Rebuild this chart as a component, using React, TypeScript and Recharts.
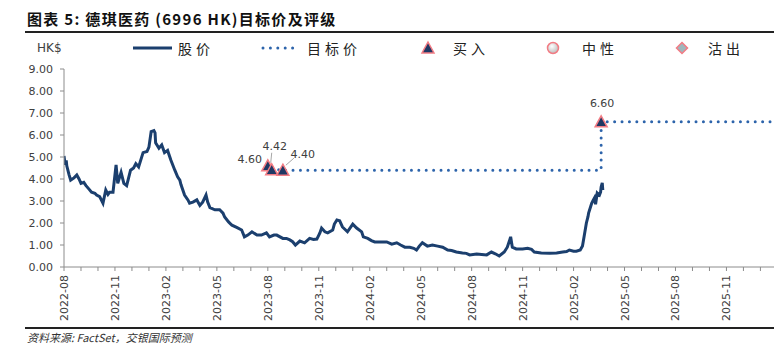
import { ComposedChart, Line, Scatter, XAxis, YAxis } from 'recharts';

// 股价 (HK$)
const priceDates = [
  '2022-08-01', '2022-08-03', '2022-08-05', '2022-08-06', '2022-08-10', '2022-08-13', '2022-08-19', '2022-08-24',
  '2022-08-28', '2022-09-01', '2022-09-06', '2022-09-10', '2022-09-15', '2022-09-20', '2022-09-26', '2022-09-29',
  '2022-10-04', '2022-10-10', '2022-10-15', '2022-10-19', '2022-10-22', '2022-10-28', '2022-11-03', '2022-11-06',
  '2022-11-12', '2022-11-17', '2022-11-22', '2022-11-29', '2022-12-04', '2022-12-08', '2022-12-13', '2022-12-21',
  '2022-12-28', '2023-01-01', '2023-01-05', '2023-01-10', '2023-01-12', '2023-01-13', '2023-01-19', '2023-01-24',
  '2023-01-29', '2023-02-04', '2023-02-10', '2023-02-17', '2023-02-22', '2023-02-26', '2023-02-28', '2023-03-04',
  '2023-03-10', '2023-03-13', '2023-03-19', '2023-03-26', '2023-04-01', '2023-04-06', '2023-04-12', '2023-04-15',
  '2023-04-19', '2023-04-28', '2023-05-06', '2023-05-12', '2023-05-15', '2023-05-22', '2023-05-28', '2023-06-06',
  '2023-06-15', '2023-06-20', '2023-06-26', '2023-07-03', '2023-07-12', '2023-07-20', '2023-07-29', '2023-08-04',
  '2023-08-12', '2023-08-17', '2023-08-28', '2023-09-04', '2023-09-10', '2023-09-15', '2023-09-20', '2023-09-28',
  '2023-10-06', '2023-10-15', '2023-10-22', '2023-10-28', '2023-11-03', '2023-11-06', '2023-11-12', '2023-11-17',
  '2023-11-26', '2023-11-29', '2023-12-03', '2023-12-08', '2023-12-13', '2023-12-22', '2024-01-01', '2024-01-08',
  '2024-01-17', '2024-01-20', '2024-01-28', '2024-02-04', '2024-02-10', '2024-02-22', '2024-03-01', '2024-03-10',
  '2024-03-19', '2024-03-26', '2024-04-03', '2024-04-12', '2024-04-19', '2024-04-24', '2024-04-29', '2024-05-04',
  '2024-05-13', '2024-05-22', '2024-06-01', '2024-06-10', '2024-06-19', '2024-06-26', '2024-07-04', '2024-07-15',
  '2024-07-22', '2024-07-28', '2024-08-10', '2024-08-19', '2024-08-28', '2024-09-06', '2024-09-13', '2024-09-20',
  '2024-09-29', '2024-10-04', '2024-10-08', '2024-10-10', '2024-10-13', '2024-10-20', '2024-11-01', '2024-11-10',
  '2024-11-17', '2024-11-22', '2024-12-04', '2024-12-19', '2025-01-01', '2025-01-12', '2025-01-19', '2025-01-24',
  '2025-02-01', '2025-02-06', '2025-02-13', '2025-02-17', '2025-02-20', '2025-02-24', '2025-02-27', '2025-02-28',
  '2025-03-03', '2025-03-06', '2025-03-08', '2025-03-10', '2025-03-13', '2025-03-17', '2025-03-19', '2025-03-20',
  '2025-03-22', '2025-03-23',
];
const priceValues = [
  5.05, 4.65, 4.85, 4.6, 4.2, 3.95, 4.05, 4.18,
  4.0, 3.8, 3.85, 3.7, 3.55, 3.4, 3.35, 3.27,
  3.2, 2.9, 3.5, 3.3, 3.4, 3.4, 4.64, 3.8,
  4.3, 3.8, 3.7, 4.4, 4.5, 4.7, 4.55, 5.2,
  5.25, 5.45, 6.15, 6.2, 6.1, 5.65, 5.4, 5.55,
  5.2, 5.3, 4.85, 4.4, 4.1, 3.95, 3.75, 3.27,
  3.05, 2.9, 2.95, 3.05, 2.8, 2.95, 3.27, 2.95,
  2.7, 2.6, 2.6, 2.45, 2.27, 2.05, 1.9, 1.8,
  1.68, 1.37, 1.45, 1.6, 1.45, 1.45, 1.55, 1.37,
  1.45, 1.45, 1.3, 1.3, 1.23, 1.15, 1.0, 1.18,
  1.1, 1.3, 1.25, 1.27, 1.55, 1.77, 1.6, 1.55,
  1.68, 1.95, 2.14, 2.1, 1.82, 1.6, 1.95, 1.77,
  1.6, 1.37, 1.3, 1.2, 1.14, 1.14, 1.14, 1.04,
  1.1, 1.0, 0.9, 0.9, 0.85, 0.77, 0.95, 1.1,
  0.95, 1.0, 0.95, 0.9, 0.77, 0.75, 0.68, 0.64,
  0.62, 0.55, 0.59, 0.57, 0.55, 0.68, 0.6, 0.5,
  0.68, 0.9, 1.2, 1.37, 0.9, 0.82, 0.82, 0.85,
  0.8, 0.68, 0.64, 0.62, 0.64, 0.68, 0.7, 0.77,
  0.72, 0.72, 0.77, 0.95, 1.4, 2.0, 2.3, 2.45,
  2.9, 3.05, 3.14, 2.85, 3.36, 3.27, 3.4, 3.64,
  3.82, 3.5,
];

// 目标价
const targetDates = ['2023-08-01', '2023-08-08', '2023-08-28', '2025-03-20', '2026-01-25'];
const targetValues = [4.6, 4.42, 4.4, 6.6, 6.6];

// 评级 (买入)
const ratingDates = ['2023-08-01', '2023-08-08', '2023-08-28', '2025-03-20'];
const ratingValues = [4.6, 4.42, 4.4, 6.6];

const yTicks = [0, 1, 2, 3, 4, 5, 6, 7, 8, 9];
const xTickLabels = [
  '2022-08', '2022-11', '2023-02', '2023-05', '2023-08', '2023-11', '2024-02',
  '2024-05', '2024-08', '2024-11', '2025-02', '2025-05', '2025-08', '2025-11',
];

// months since 2022-08-01
const toMonths = (s: string) => {
  const [y, mo, d] = s.split('-').map(Number);
  return (y - 2022) * 12 + (mo - 8) + ((d || 1) - 1) / 30.5;
};

const priceData = priceDates.map((d, i) => ({ m: toMonths(d), v: priceValues[i] }));
const targetData = targetDates.map((d, i) => ({ m: toMonths(d), v: targetValues[i] }));
const ratingData = ratingDates.map((d, i) => ({ m: toMonths(d), v: ratingValues[i], i }));

const monthTicks = Array.from({ length: 42 }, (_, i) => i);
const labelled = new Map(xTickLabels.map((l) => [Math.round(toMonths(l + '-01')), l]));

const AXIS = '#8c8c8c';
const TEXT = '#404040';
const FONT = '"DejaVu Sans", sans-serif';
const CJK = '"Noto Sans CJK SC", sans-serif';
const NAVY = '#1b3f6e';
const BLUE = '#2d64ab';
const PINK = '#f27c84';

// label placement for each rating point, relative to the marker
const labelOffsets = [[-18, -6], [3, -23], [20, -16], [1, -18]];
const leaders: Record<number, number[]> = { 1: [0, -17, -1, -7], 2: [11, -12, 3, -5] };

const MonthTick = (props: any) => {
  const { x, y, payload } = props;
  const label = labelled.get(payload.value);
  return (
    <g>
      <line x1={x} x2={x} y1={y} y2={y + 4} stroke={AXIS} />
      {label && (
        <text
          transform={`translate(${x + 4},${y + 8}) rotate(-90)`}
          textAnchor="end"
          fontSize={11}
          fontFamily={FONT}
          fill={TEXT}
        >
          {label}
        </text>
      )}
    </g>
  );
};

const Triangle = ({ cx, cy, stroke = PINK }: any) => (
  <path
    d={`M${cx},${cy - 6} L${cx + 6},${cy + 5} L${cx - 6},${cy + 5} Z`}
    fill="#1f3864"
    stroke={stroke}
    strokeWidth={1.5}
  />
);

const RatingMark = (props: any) => {
  const { cx, cy, payload } = props;
  const [dx, dy] = labelOffsets[payload.i];
  const ld = leaders[payload.i];
  return (
    <g>
      {ld && (
        <line x1={cx + ld[0]} y1={cy + ld[1]} x2={cx + ld[2]} y2={cy + ld[3]} stroke="#a6a6a6" strokeWidth={1} />
      )}
      <Triangle cx={cx} cy={cy} />
      <text
        x={cx + dx}
        y={cy + dy}
        textAnchor="middle"
        dominantBaseline="central"
        fontSize={11}
        fontFamily={FONT}
        fill={TEXT}
      >
        {payload.v.toFixed(2)}
      </text>
    </g>
  );
};

const legendText = {
  position: 'absolute' as const,
  top: 38,
  fontSize: 14,
  fontFamily: CJK,
  letterSpacing: 4,
  color: '#222',
  lineHeight: '20px',
};

export default function App() {
  return (
    <div style={{ position: 'absolute', left: 0, top: 0, width: 774, height: 354, background: '#fff' }}>
      <div
        style={{
          position: 'absolute',
          left: 27,
          top: 8,
          fontSize: 15,
          fontWeight: 'bold',
          fontFamily: CJK,
          letterSpacing: 1.3,
          lineHeight: '22px',
          color: '#111',
          whiteSpace: 'nowrap',
        }}
      >
        图表 5: 德琪医药 (6996 HK)目标价及评级
      </div>
      <div style={{ position: 'absolute', left: 25, right: 0, top: 31, height: 2, background: '#222' }} />

      {/* legend */}
      <div style={{ position: 'absolute', left: 37, top: 40, fontSize: 12, fontFamily: FONT, color: TEXT, lineHeight: '16px' }}>
        HK$
      </div>
      <svg style={{ position: 'absolute', left: 0, top: 38 }} width={774} height={20}>
        <line x1={133} x2={172} y1={10} y2={10} stroke={NAVY} strokeWidth={3} />
        <line x1={263} x2={300} y1={10} y2={10} stroke={BLUE} strokeWidth={3} strokeDasharray="0 7.4" strokeLinecap="round" />
        <Triangle cx={428} cy={10} />
        <defs>
          <radialGradient id="neutral" cx="40%" cy="35%" r="70%">
            <stop offset="0%" stopColor="#ffffff" />
            <stop offset="100%" stopColor="#b8b8b8" />
          </radialGradient>
        </defs>
        <circle cx={553} cy={10} r={5.5} fill="url(#neutral)" stroke={PINK} strokeWidth={1.5} />
        <path d="M682,4.5 L687.5,10 L682,15.5 L676.5,10 Z" fill="#9fb7bc" stroke={PINK} strokeWidth={1.5} />
      </svg>
      <div style={{ ...legendText, left: 178 }}>股价</div>
      <div style={{ ...legendText, left: 307 }}>目标价</div>
      <div style={{ ...legendText, left: 453 }}>买入</div>
      <div style={{ ...legendText, left: 582 }}>中性</div>
      <div style={{ ...legendText, left: 708 }}>沽出</div>

      <div style={{ position: 'absolute', left: 0, top: 0 }}>
        <ComposedChart width={774} height={354} margin={{ top: 69, right: 0, bottom: 0, left: 0 }}>
          <XAxis
            dataKey="m"
            type="number"
            domain={[0, 41.8]}
            ticks={monthTicks}
            interval={0}
            height={87}
            axisLine={{ stroke: AXIS }}
            tickLine={false}
            tickSize={0}
            tickMargin={0}
            tick={<MonthTick />}
            allowDataOverflow
          />
          <YAxis
            dataKey="v"
            type="number"
            domain={[0, 9]}
            ticks={yTicks}
            interval={0}
            width={64}
            axisLine={{ stroke: AXIS }}
            tickLine={{ stroke: AXIS }}
            tickSize={4}
            tickMargin={7}
            tickFormatter={(v: number) => v.toFixed(2)}
            tick={{ fontSize: 11, fontFamily: FONT, fill: TEXT }}
          />
          <Line
            data={priceData}
            dataKey="v"
            type="linear"
            stroke={NAVY}
            strokeWidth={3}
            dot={false}
            activeDot={false}
            isAnimationActive={false}
          />
          <Line
            data={targetData}
            dataKey="v"
            type="stepAfter"
            stroke={BLUE}
            strokeWidth={3}
            strokeDasharray="0 7.4"
            strokeLinecap="round"
            dot={false}
            activeDot={false}
            isAnimationActive={false}
          />
          <Scatter data={ratingData} dataKey="v" shape={<RatingMark />} isAnimationActive={false} />
        </ComposedChart>
      </div>

      <div style={{ position: 'absolute', left: 25, right: 0, top: 327, height: 2, background: '#222' }} />
      <div
        style={{
          position: 'absolute',
          left: 27,
          top: 330,
          fontSize: 11,
          fontStyle: 'italic',
          fontFamily: CJK,
          lineHeight: '15px',
          color: '#333',
          whiteSpace: 'nowrap',
        }}
      >
        资料来源: FactSet，交银国际预测
      </div>
    </div>
  );
}
